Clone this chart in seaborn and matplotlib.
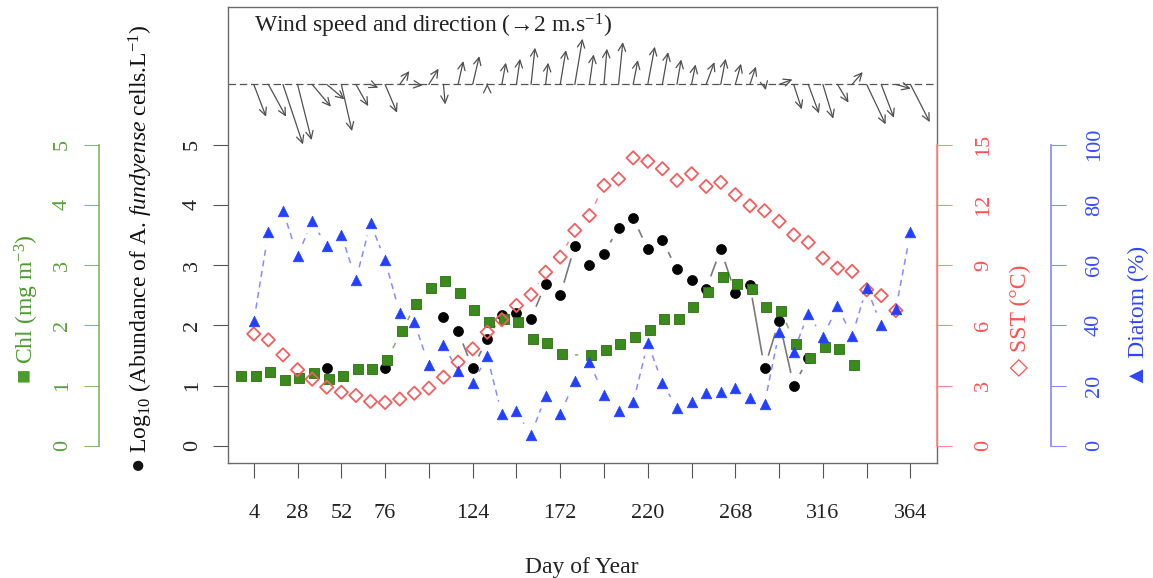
import numpy as np
import pandas as pd
import matplotlib
matplotlib.use('Agg')
import matplotlib.pyplot as plt
from matplotlib.collections import LineCollection
import seaborn as sns

# ---- data ----
day = [4, 12, 20, 28, 36, 44, 52, 60, 68, 76, 84, 92, 100, 108, 116, 124, 132, 140,
       148, 156, 164, 172, 180, 188, 196, 204, 212, 220, 228, 236, 244, 252, 260, 268,
       276, 284, 292, 300, 308, 316, 324, 332, 340, 348, 356, 364]

chl_day = [-3, 5, 13, 21, 29, 37, 45, 53, 61, 69, 77, 85, 93, 101, 109, 117, 125, 133,
           141, 149, 157, 165, 173, 189, 197, 205, 213, 221, 229, 237, 245, 253, 261,
           269, 277, 285, 293, 301, 309, 317, 325, 333]
chl = [1.16, 1.16, 1.22, 1.09, 1.12, 1.21, 1.11, 1.16, 1.28, 1.27, 1.43, 1.90, 2.35,
       2.62, 2.74, 2.54, 2.25, 2.05, 2.10, 2.05, 1.77, 1.71, 1.52, 1.50, 1.59, 1.69,
       1.81, 1.92, 2.11, 2.11, 2.30, 2.55, 2.81, 2.69, 2.61, 2.30, 2.24, 1.69, 1.46,
       1.64, 1.61, 1.34]

sst_day = day[:45]
sst = [5.57, 5.28, 4.53, 3.79, 3.32, 2.92, 2.67, 2.51, 2.21, 2.16, 2.33, 2.62, 2.87,
       3.42, 4.17, 4.83, 5.66, 6.28, 6.99, 7.53, 8.65, 9.40, 10.73, 11.47, 12.97, 13.29,
       14.34, 14.17, 13.80, 13.22, 13.55, 12.92, 13.12, 12.51, 11.96, 11.71, 11.18,
       10.51, 10.13, 9.35, 8.85, 8.69, 7.77, 7.48, 6.74]

diatom = [41.3, 70.9, 78.1, 63.1, 74.5, 66.2, 70.1, 55.1, 74.0, 61.6, 44.1, 41.1, 26.7,
          33.6, 24.7, 20.8, 29.7, 10.5, 11.4, 3.7, 16.4, 10.6, 21.4, 27.7, 16.9, 11.4,
          14.4, 34.1, 21.0, 12.5, 14.4, 17.5, 18.0, 19.2, 15.8, 14.0, 37.7, 31.3, 43.9,
          36.1, 46.3, 36.5, 52.4, 40.2, 45.4, 70.9]

ab_day = [44, 76, 108, 116, 124, 132, 140, 148, 156, 164, 172, 180, 188, 196, 204, 212,
          220, 228, 236, 244, 252, 260, 268, 276, 284, 292, 300, 308]
abund = [1.29, 1.29, 2.14, 1.90, 1.29, 1.77, 2.18, 2.20, 2.11, 2.69, 2.50, 3.32, 3.01,
         3.19, 3.62, 3.79, 3.26, 3.41, 2.93, 2.75, 2.61, 3.26, 2.54, 2.67, 1.29, 2.08,
         1.00, 1.45]

# wind vectors (m/s, east / north)
wind_u = [1.07, 1.54, 1.74, 1.22, 1.63, 1.54, 0.93, 1.07, 0.67, 1.04, 0.84, 0.72, 0.84,
          0.15, 0.46, 0.58, 0.00, 0.35, 0.32, 0.35, 0.23, 0.50, 0.67, 0.37, 0.26, 0.37,
          0.41, 0.61, 0.50, 0.37, 0.35, 0.72, 0.43, 0.50, 0.52, 0.11, 1.16, 0.70, 0.93,
          0.90, 0.96, 0.93, 1.65, 1.10, 1.30, 1.68]
wind_v = [-2.81, -2.81, -5.22, -4.84, -1.94, -1.30, -4.06, -1.89, -0.29, -2.46, 1.16,
          -0.09, 1.37, -1.74, 2.03, 2.46, 0.05, 1.89, 2.23, 3.19, 1.89, 2.98, 3.97, 2.61,
          3.10, 3.68, 2.11, 3.28, 2.81, 2.17, 1.74, 1.94, 2.23, 1.80, 1.54, -0.50, 0.43,
          -2.17, -2.52, -2.98, -1.59, 1.07, -3.48, -2.90, -0.37, -3.28]

tick_day = [4, 28, 52, 76, 100, 124, 148, 172, 196, 220, 244, 268, 292, 316, 340, 364]
tick_lab = ['4', '28', '52', '76', '', '124', '', '172', '', '220', '', '268', '',
            '316', '', '364']

GREEN = '#3a8a1c'
GREEN_AX = '#86b86c'
RED = '#f25f5f'
RED_AX = '#ff8a8a'
BLUE = '#2340ff'
BLUE_AX = '#8a8aff'
GREY = '#555555'

sns.set_theme(style='white')
plt.rcParams['font.family'] = ['Liberation Serif', 'DejaVu Sans']
plt.rcParams['mathtext.fontset'] = 'custom'
plt.rcParams['mathtext.rm'] = 'Liberation Serif'
plt.rcParams['mathtext.it'] = 'Liberation Serif:italic'
plt.rcParams['mathtext.bf'] = 'Liberation Serif:bold'

W, H = 1153, 578
fig = plt.figure(figsize=(W / 100, H / 100), dpi=100)
ax = fig.add_axes([227.5 / W, 1 - 462.7 / H, 709.2 / W, 455.4 / H])
ax_chl = ax.twinx()
ax_sst = ax.twinx()
ax_dia = ax.twinx()

XLIM = (-10.4, 378.4)
ax.set_xlim(*XLIM)
ax.set_ylim(-0.28, 7.28)
ax_chl.set_ylim(-0.28, 7.28)
ax_sst.set_ylim(-0.84, 21.84)
ax_dia.set_ylim(-5.6, 145.6)


def b_line(a, x, y, gap=13, max_step=None, **kw):
    # R style type="b": segments stop short of the points
    pts = a.transData.transform(np.column_stack([x, y]))
    inv = a.transData.inverted()
    segs = []
    for i in range(len(pts) - 1):
        if max_step is not None and x[i + 1] - x[i] > max_step:
            continue
        p0, p1 = pts[i], pts[i + 1]
        d = p1 - p0
        L = np.hypot(*d)
        if L <= 2 * gap:
            continue
        u = d / L
        segs.append(inv.transform([p0 + u * gap, p1 - u * gap]))
    a.add_collection(LineCollection(segs, **kw))


# ---- wind panel on the main axes ----
ax.axhline(6, color=GREY, lw=0.9, ls=(0, (6, 3)), zorder=1)
wind_px = 11.5  # pixels per m/s
for d, u, v in zip(day, wind_u, wind_v):
    p0 = ax.transData.transform((d, 6))
    tip = ax.transData.inverted().transform(p0 + np.array([u, v]) * wind_px)
    ax.annotate('', xy=tip, xytext=(d, 6),
                arrowprops=dict(arrowstyle='->,head_length=0.45,head_width=0.22',
                                color='#505050', lw=0.9, shrinkA=0, shrinkB=0))
ax.text(4, 6.865, 'Wind speed and direction (\u21922 m.s$^{-1}$)', fontsize=17,
        color='#222222', va='baseline', ha='left')

# ---- series ----
b_line(ax, ab_day, abund, max_step=8, colors='#7a7a7a', linewidths=1.2)
sns.scatterplot(x=ab_day, y=abund, marker='o', s=52, color='black',
                edgecolor='black', linewidth=0.5, ax=ax, zorder=3)

b_line(ax_chl, chl_day, chl, colors='#8aa86e', linewidths=1.1, linestyles=(0, (4, 3)))
sns.scatterplot(x=chl_day, y=chl, marker='s', s=44, color=GREEN,
                edgecolor='#2d6e14', linewidth=0.6, ax=ax_chl, zorder=3)

b_line(ax_sst, sst_day, sst, colors=RED_AX, linewidths=1.1, linestyles=(0, (4, 3)))
sns.scatterplot(x=sst_day, y=sst, marker='D', s=46, facecolor='none',
                edgecolor=RED, linewidth=1.3, ax=ax_sst, zorder=3)

b_line(ax_dia, day, diatom, colors=BLUE_AX, linewidths=1.1, linestyles=(0, (4, 3)))
sns.scatterplot(x=day, y=diatom, marker='^', s=58, color=BLUE,
                edgecolor=BLUE, linewidth=0.5, ax=ax_dia, zorder=3)

# ---- axes styling ----
for sp in ax.spines.values():
    sp.set_color('#6a6a6a')
    sp.set_linewidth(1.0)
ax.set_xticks(tick_day, labels=tick_lab, fontsize=16, color='#222222')
ax.set_yticks(range(6), labels=[str(i) for i in range(6)], rotation=90, va='center',
              fontsize=16, color='#222222')
ax.tick_params(axis='x', length=10.8, width=0.8, color=GREY, pad=19, direction='out',
               bottom=True)
ax.tick_params(axis='y', length=10.8, width=0.8, color=GREY, pad=7.5, direction='out',
               left=True)

for a in (ax_chl, ax_sst, ax_dia):
    for sp in a.spines.values():
        sp.set_visible(False)
    a.grid(False)

ax_chl.yaxis.tick_left()
ax_chl.spines['left'].set_visible(True)
ax_chl.spines['left'].set_position(('axes', -0.1808))
ax_chl.spines['left'].set_bounds(0, 5)
ax_chl.spines['left'].set_color(GREEN_AX)
ax_chl.set_yticks(range(6), labels=[str(i) for i in range(6)], rotation=90, va='center',
                  fontsize=16, color='#5a9e3a')
ax_chl.tick_params(axis='y', length=10.8, width=0.8, color=GREEN_AX, pad=9)

ax_sst.spines['right'].set_visible(True)
ax_sst.spines['right'].set_position(('axes', 1.0))
ax_sst.spines['right'].set_bounds(0, 15)
ax_sst.spines['right'].set_color(RED_AX)
ax_sst.set_yticks([0, 3, 6, 9, 12, 15], labels=['0', '3', '6', '9', '12', '15'],
                  rotation=90, va='center', fontsize=16, color='#ff5050')
ax_sst.tick_params(axis='y', length=10.8, width=0.8, color=RED_AX, pad=16)

ax_dia.spines['right'].set_visible(True)
ax_dia.spines['right'].set_position(('axes', 1.1607))
ax_dia.spines['right'].set_bounds(0, 100)
ax_dia.spines['right'].set_color(BLUE_AX)
ax_dia.set_yticks([0, 20, 40, 60, 80, 100], labels=['0', '20', '40', '60', '80', '100'],
                  rotation=90, va='center', fontsize=16, color='#3a4aff')
ax_dia.tick_params(axis='y', length=10.8, width=0.8, color=BLUE_AX, pad=14)

for a in (ax_chl, ax_sst, ax_dia):
    a.set_xlim(*XLIM)
    a.set_ylabel('')

# ---- axis titles ----
fig.text(26.7 / W, 1 - 309 / H, '\u25a0 Chl (mg m$^{-3}$)', rotation=90, ha='center',
         va='center', fontsize=17, color='#4c9a2c')
fig.text(141 / W, 1 - 249 / H,
         '\u25cf Log$_{10}$ (Abundance of A. $\\mathit{fundyense}$ cells.L$^{-1}$)',
         rotation=90, ha='center', va='center', fontsize=17, color='#111111')
fig.text(1020 / W, 1 - 320 / H, '\u25c7 SST (\u00b0C)', rotation=90, ha='center',
         va='center', fontsize=17, color='#ff5050')
fig.text(1138 / W, 1 - 316 / H, '\u25b2 Diatom (%)', rotation=90, ha='center',
         va='center', fontsize=17, color='#2f44ff')
fig.text(582 / W, 1 - 567 / H, 'Day of Year', ha='center', va='center', fontsize=17,
         color='#222222')

fig.savefig('out.png', dpi=100)
